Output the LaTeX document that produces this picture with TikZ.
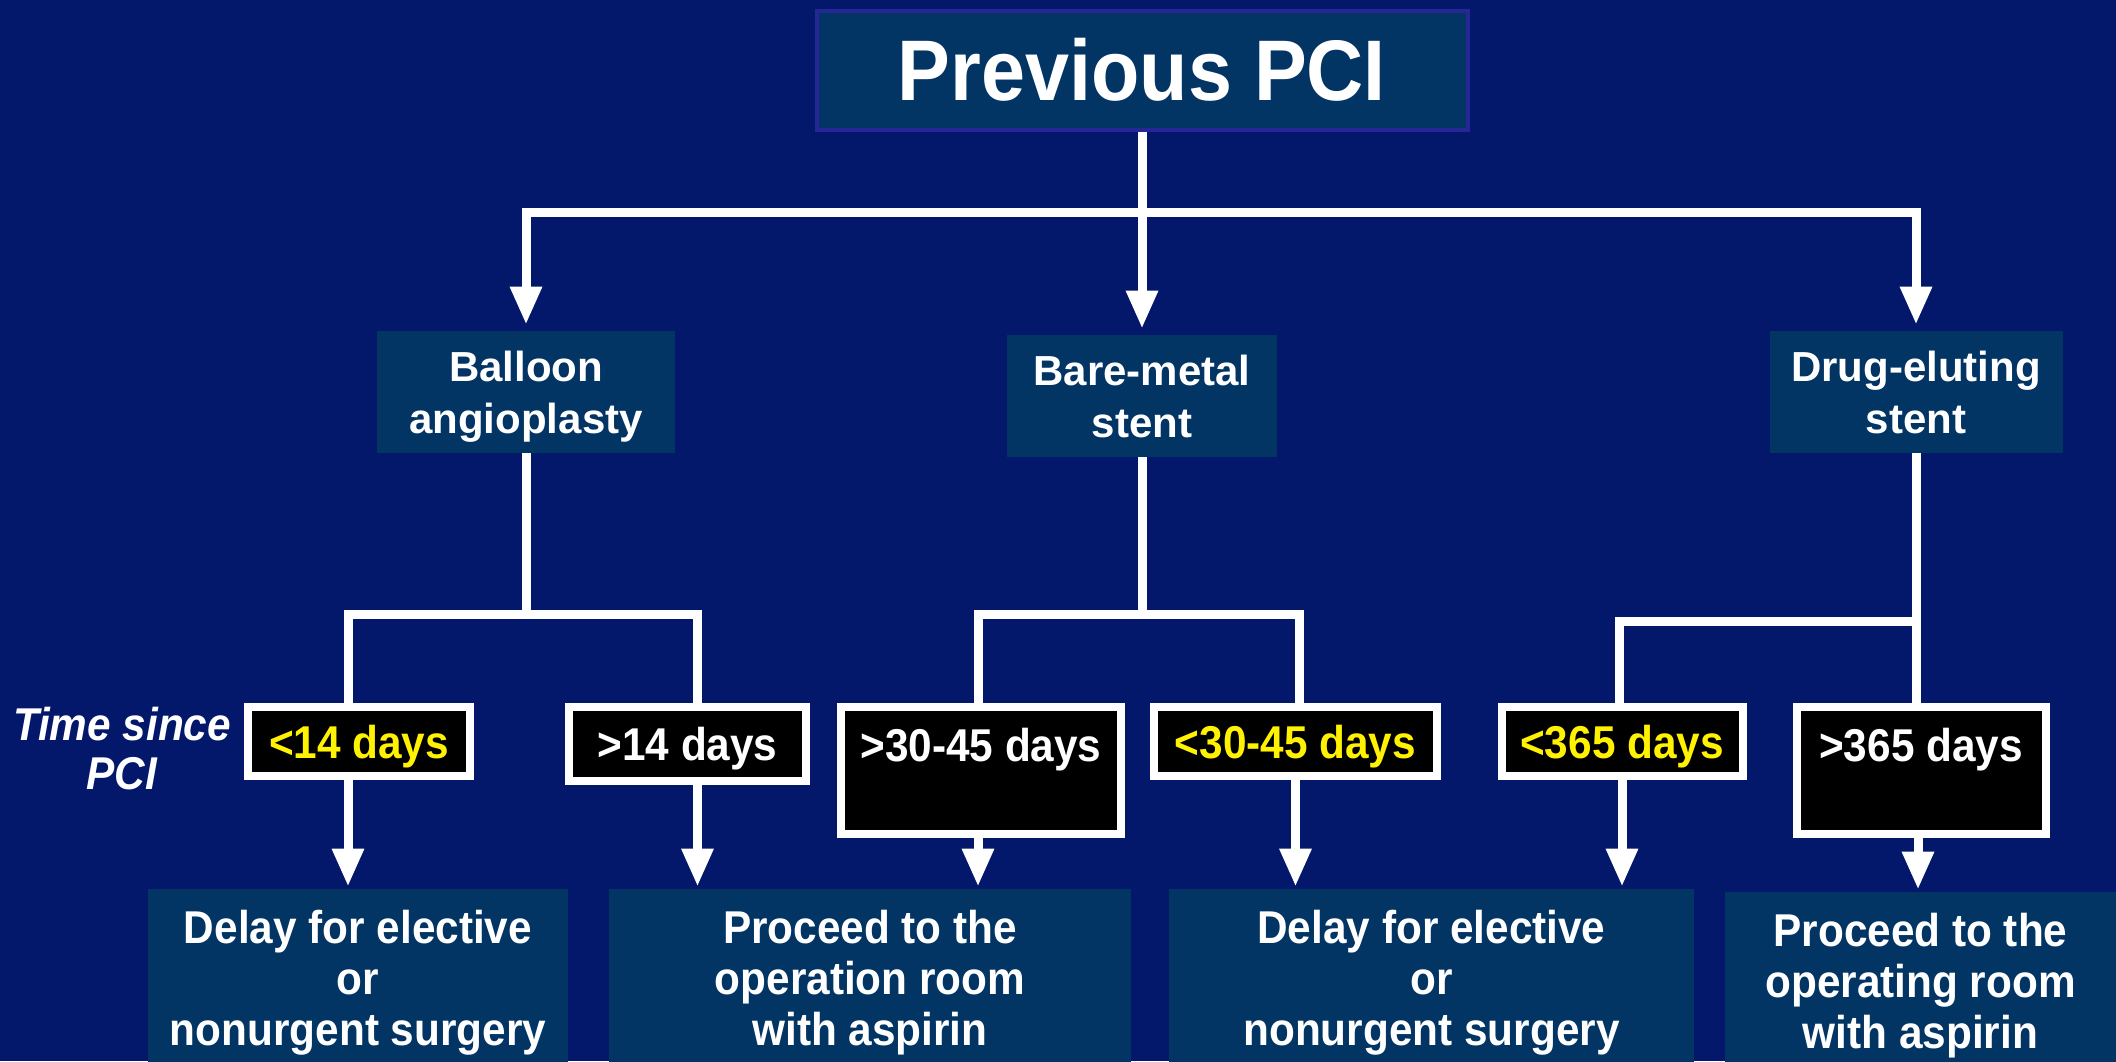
\documentclass[tikz,border=0pt]{standalone}
\usepackage{fontspec}
\setmainfont{Liberation Sans}
\newfontfamily\narrowfont{Liberation Sans}[FakeStretch=0.92]
\usetikzlibrary{arrows.meta}
\definecolor{bgnavy}{RGB}{3,24,106}
\definecolor{boxblue}{RGB}{2,52,100}
\definecolor{titleborder}{RGB}{38,38,150}
\tikzset{
  line/.style={draw=white, line width=4.5pt},
  arr/.style={line, -{Triangle[width=15pt,length=19pt]}, shorten >=3pt},
  arrb/.style={line, -{Triangle[width=15pt,length=19pt]}, shorten >=1pt},
  titlebox/.style={draw=titleborder, line width=2pt, fill=boxblue, text=white, inner sep=0pt,
    minimum width=325.5pt, minimum height=59.5pt, font=\narrowfont\bfseries\fontsize{43pt}{48pt}\selectfont},
  midbox/.style={fill=boxblue, text=white, inner sep=0pt, align=center, minimum height=61pt,
    text depth=0pt, font=\bfseries\fontsize{21pt}{26pt}\selectfont},
  daybox/.style={draw=white, line width=4pt, fill=black, inner sep=0pt, minimum height=34.5pt,
    text depth=0pt, font=\narrowfont\bfseries\fontsize{23pt}{26pt}\selectfont},
  daytext/.style={inner sep=0pt, text depth=0pt, font=\narrowfont\bfseries\fontsize{23pt}{26pt}\selectfont},
  endbox/.style={fill=boxblue, text=white, inner sep=0pt, align=center, minimum height=89pt,
    text depth=0pt, font=\narrowfont\bfseries\fontsize{23pt}{25.5pt}\selectfont},
}
\begin{document}
\begin{tikzpicture}[x=0.5pt,y=-0.5pt]
\path[fill=bgnavy] (0,0) rectangle (2116,1061);
\useasboundingbox (0,0) rectangle (2116,1061);
\clip (0,0) rectangle (2116,1061);

% top
\node[titlebox] (title) at (1142,70) {Previous PCI};

% level 1
\node[midbox, minimum width=149pt] (balloon) at (526,392) {Balloon\\angioplasty};
\node[midbox, minimum width=135pt] (bare) at (1142,396) {Bare-metal\\stent};
\node[midbox, minimum width=146.5pt] (drug) at (1916,392) {Drug-eluting\\stent};

% time since
\node[inner sep=0pt, text=white, align=center, font=\narrowfont\bfseries\itshape\fontsize{23pt}{24.5pt}\selectfont] (tsp) at (122,749) {Time since\\PCI};

% day boxes
\node[daybox, minimum width=111pt, text=yellow] (d1) at (359,741.5) {<14 days};
\node[daybox, minimum width=118.5pt, minimum height=37pt, text=white] (d2) at (687.5,744) {>14 days};
\node[daybox, minimum width=140pt, minimum height=63.5pt] (d3) at (981,770.5) {};
\node[daytext, text=white] (d3t) at (981,745) {>30-45 days};
\node[daybox, minimum width=141.5pt, text=yellow] (d4) at (1295.5,741.5) {<30-45 days};
\node[daybox, minimum width=120.5pt, text=yellow] (d5) at (1622,741.5) {<365 days};
\node[daybox, minimum width=124.5pt, minimum height=63.5pt] (d6) at (1921,770.5) {};
\node[daytext, text=white] (d6t) at (1921,745) {>365 days};

% end boxes
\node[endbox, minimum width=210pt] (b1) at (358,978) {Delay for elective\\or\\nonurgent surgery};
\node[endbox, minimum width=261pt] (b2) at (870,978) {Proceed to the\\operation room\\with aspirin};
\node[endbox, minimum width=262.5pt] (b3) at (1431.5,978) {Delay for elective\\or\\nonurgent surgery};
\node[endbox, minimum width=195.5pt] (b4) at (1920.5,981) {Proceed to the\\operating room\\with aspirin};

% connectors level 0 -> 1
\coordinate (j0) at (1142,212);
\draw[line] (title.south) -- (j0);
\draw[arr] (j0) -| (balloon.north);
\draw[arr] (j0) -| (drug.north);
\draw[arr] (j0) -- (bare.north);

% balloon branch
\coordinate (j1) at (526,614);
\draw[line] (balloon.south) -- (j1);
\draw[line] (j1) -| ([xshift=-5.5pt]d1.north);
\draw[line] (j1) -| ([xshift=5pt]d2.north);

% bare-metal branch
\coordinate (j2) at (1142,614);
\draw[line] (bare.south) -- (j2);
\draw[line] (j2) -| ([xshift=-1.5pt]d3.north);
\draw[line] (j2) -| ([xshift=2pt]d4.north);

% drug-eluting branch
\coordinate (j3) at (1916,621);
\draw[line] (drug.south) -- (drug.south |- d6.north);
\draw[line] (j3) -| ([xshift=-1.5pt]d5.north);

% day boxes -> end boxes
\draw[arrb] ([xshift=-5.5pt]d1.south) -- ([xshift=-5.5pt]d1.south |- b1.north);
\draw[arrb] ([xshift=5pt]d2.south) -- ([xshift=5pt]d2.south |- b2.north);
\draw[arrb] ([xshift=-1.5pt]d3.south) -- ([xshift=-1.5pt]d3.south |- b2.north);
\draw[arrb] (d4.south) -- (d4.south |- b3.north);
\draw[arrb] (d5.south) -- (d5.south |- b3.north);
\draw[arrb] ([xshift=-1.5pt]d6.south) -- ([xshift=-1.5pt]d6.south |- b4.north);
\end{tikzpicture}
\end{document}
